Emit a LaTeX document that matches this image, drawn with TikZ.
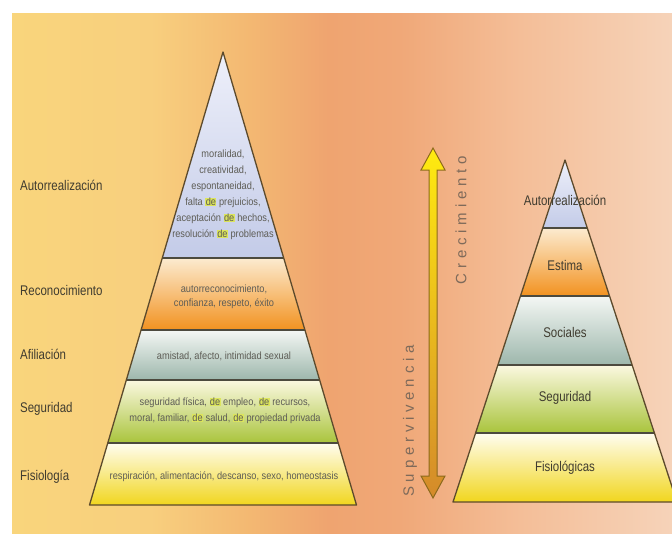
\documentclass[tikz,border=0pt]{standalone}
\usepackage{fontspec}
\setmainfont{Liberation Sans}
\newfontfamily\lblfont[FakeStretch=0.82]{Liberation Sans}
\newfontfamily\inrfont[FakeStretch=0.88]{Liberation Sans}
\newfontfamily\sidefont[LetterSpace=32]{Liberation Sans}
\definecolor{bgA}{HTML}{F9D57C}
\definecolor{bgB}{HTML}{F8CF7E}
\definecolor{bgC}{HTML}{F3B872}
\definecolor{bgD}{HTML}{EFA470}
\definecolor{bgE}{HTML}{F0A878}
\definecolor{bgF}{HTML}{F4BE98}
\definecolor{bgG}{HTML}{F6D3B9}
\definecolor{lblcol}{HTML}{403C30}
\definecolor{inrcol}{HTML}{5E5D56}
\definecolor{sidecol}{HTML}{7E6A5A}
\definecolor{sepcol}{HTML}{4C4A3E}
\definecolor{edgecol}{HTML}{5C4A2C}
\definecolor{hlcol}{HTML}{DCE55C}
\definecolor{arrtop}{HTML}{FFEB10}
\definecolor{arrbot}{HTML}{D48A2A}
\definecolor{arredge}{HTML}{8C6A1C}
\definecolor{lavT}{HTML}{EEF0FA}
\definecolor{lavB}{HTML}{C3CBE8}
\definecolor{oraT}{HTML}{FCEBD0}
\definecolor{oraB}{HTML}{F29220}
\definecolor{teaT}{HTML}{F4F7F4}
\definecolor{teaB}{HTML}{9DB7AC}
\definecolor{grnT}{HTML}{FBF8E0}
\definecolor{grnB}{HTML}{A9C43C}
\definecolor{yelT}{HTML}{FFFDF0}
\definecolor{yelB}{HTML}{F1D61E}
\pgfdeclarehorizontalshading{bgsh}{100bp}{color(0bp)=(bgA); color(25bp)=(bgA); color(35.5bp)=(bgB); color(43bp)=(bgC); color(49bp)=(bgD); color(54.4bp)=(bgE); color(63.5bp)=(bgF); color(75bp)=(bgG); color(100bp)=(bgG)}
\newcommand\hde{{\setlength{\fboxsep}{0.4pt}\colorbox{hlcol}{de}}}
% apex x, apex y, slope, y top, y bottom, top colour, bottom colour
\newcommand\pyrband[7]{%
  \pgfmathsetmacro\pbHa{#3*(#4-#2)}%
  \pgfmathsetmacro\pbHb{#3*(#5-#2)}%
  \shade[top color=#6,bottom color=#7] (#1-\pbHa,#4) -- (#1+\pbHa,#4) -- (#1+\pbHb,#5) -- (#1-\pbHb,#5) -- cycle;}
\newcommand\pyrsep[4]{%
  \pgfmathsetmacro\pbHa{#3*(#4-#2)}%
  \draw[sepline] (#1-\pbHa,#4) -- (#1+\pbHa,#4);}
\newcommand\pyredge[4]{%
  \pgfmathsetmacro\pbHa{#3*(#4-#2)}%
  \draw[edgeline] (#1-\pbHa,#4) -- (#1,#2) -- (#1+\pbHa,#4) -- cycle;}
\begin{document}
\begin{tikzpicture}[x=1pt,y=-1pt,
  lbl/.style={font=\lblfont\fontsize{14}{16}\selectfont, text=lblcol, inner sep=0pt},
  lblL/.style={lbl, anchor=west},
  inr/.style={font=\inrfont\fontsize{10.5}{16}\selectfont, text=inrcol, align=center, inner sep=0pt},
  sepline/.style={draw=sepcol, line width=1.8pt},
  edgeline/.style={draw=edgecol, line width=1.3pt, line join=round},
  side/.style={font=\sidefont\fontsize{15}{17}\selectfont, text=sidecol, rotate=90, inner sep=0pt}]
\useasboundingbox (0,0) rectangle (672,533);
\fill[white] (0,0) rectangle (672,533);
\shade[shading=bgsh] (12,13) rectangle (672,533);
% left pyramid
\pyrband{223}{52}{0.2947}{52}{258}{lavT}{lavB}
\pyrband{223}{52}{0.2947}{258}{330}{oraT}{oraB}
\pyrband{223}{52}{0.2947}{330}{380}{teaT}{teaB}
\pyrband{223}{52}{0.2947}{380}{443}{grnT}{grnB}
\pyrband{223}{52}{0.2947}{443}{505}{yelT}{yelB}
\pyrsep{223}{52}{0.2947}{258}
\pyrsep{223}{52}{0.2947}{330}
\pyrsep{223}{52}{0.2947}{380}
\pyrsep{223}{52}{0.2947}{443}
\pyredge{223}{52}{0.2947}{505}
% right pyramid
\pyrband{565}{160}{0.3275}{160}{228}{lavT}{lavB}
\pyrband{565}{160}{0.3275}{228}{296}{oraT}{oraB}
\pyrband{565}{160}{0.3275}{296}{365}{teaT}{teaB}
\pyrband{565}{160}{0.3275}{365}{433}{grnT}{grnB}
\pyrband{565}{160}{0.3275}{433}{502}{yelT}{yelB}
\pyrsep{565}{160}{0.3275}{228}
\pyrsep{565}{160}{0.3275}{296}
\pyrsep{565}{160}{0.3275}{365}
\pyrsep{565}{160}{0.3275}{433}
\pyredge{565}{160}{0.3275}{502}
% double arrow
\shade[top color=arrtop, bottom color=arrbot, draw=arredge, line width=1pt, line join=miter]
  (433,148) -- (445,170) -- (437,170) -- (437,476) -- (445,476) -- (433,498)
  -- (421,476) -- (429,476) -- (429,170) -- (421,170) -- cycle;
\node[side] (crec) at (461,220) {Crecimiento};
\node[side] (superv) at (410,421) {Supervivencia};
% left labels
\node[lblL] (lAuto) at (20,185) {Autorrealización};
\node[lblL] (lReco) at (20,290) {Reconocimiento};
\node[lblL] (lAfil) at (20,354) {Afiliación};
\node[lblL] (lSegu) at (20,409) {Seguridad};
\node[lblL] (lFisi) at (20,477) {Fisiología};
% inner texts
\node[inr] (tAuto) at (223,195) {moralidad,\\creatividad,\\espontaneidad,\\falta \hde{} prejuicios,\\aceptación \hde{} hechos,\\resolución \hde{} problemas};
\node[inr, font=\inrfont\fontsize{10.5}{14}\selectfont] (tReco) at (224,297) {autorreconocimiento,\\confianza, respeto, éxito};
\node[inr] (tAfil) at (224,356) {amistad, afecto, intimidad sexual};
\node[inr] (tSegu) at (225,411) {seguridad física, \hde{} empleo, \hde{} recursos,\\moral, familiar, \hde{} salud, \hde{} propiedad privada};
\node[inr] (tFisi) at (224,477) {respiración, alimentación, descanso, sexo, homeostasis};
% right labels
\node[lbl] (rAuto) at (565,200) {Autorrealización};
\node[lbl] (rEsti) at (565,265) {Estima};
\node[lbl] (rSoci) at (565,332) {Sociales};
\node[lbl] (rSegu) at (565,398) {Seguridad};
\node[lbl] (rFisi) at (565,468) {Fisiológicas};
\end{tikzpicture}
\end{document}
